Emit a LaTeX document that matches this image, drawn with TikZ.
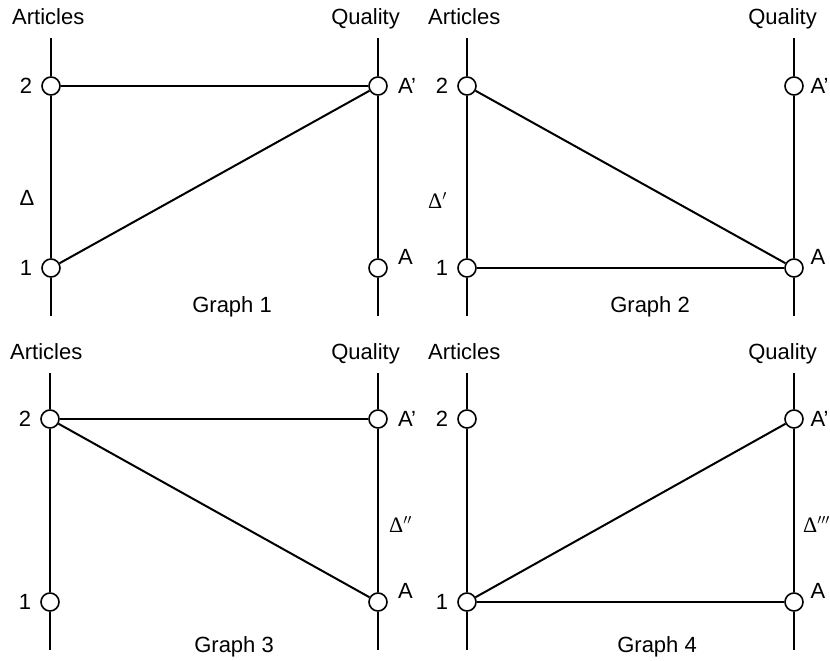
\documentclass[tikz,border=0pt]{standalone}
\usepackage{fontspec}
\setmainfont{Liberation Sans}
\newfontfamily\deltafont{Liberation Serif}
\begin{document}
\begin{tikzpicture}[x=1pt,y=-1pt,
  pt/.style={circle,draw,line width=1.6pt,fill=white,minimum size=18pt,inner sep=0pt},
  ln/.style={line width=2pt},
  txt/.style={inner sep=0pt,font=\fontsize{22}{26}\selectfont},
  dtxt/.style={inner sep=0pt,font=\fontsize{22}{26}\deltafont}]
\useasboundingbox[fill=white] (0,0) rectangle (830,661);

% ---------- Panel 1 ----------
\coordinate (p1lt) at (51,38);  \coordinate (p1lb) at (51,316);
\coordinate (p1rt) at (378,38); \coordinate (p1rb) at (378,316);
\node[pt] (p1l2) at (51,86) {};
\node[pt] (p1l1) at (51,268) {};
\node[pt] (p1rAp) at (378,86) {};
\node[pt] (p1rA) at (378,268) {};
\draw[ln] (p1lt) -- (p1l2) -- (p1l1) -- (p1lb);
\draw[ln] (p1rt) -- (p1rAp) -- (p1rA) -- (p1rb);
\draw[ln] (p1l2) -- (p1rAp);
\draw[ln] (p1l1) -- (p1rAp);
\node[txt,anchor=base west] (p1art) at (12,25) {Articles};
\node[txt,anchor=base east] (p1qual) at (400,25) {Quality};
\node[txt,anchor=east] (p1n2) at ([xshift=-9pt]p1l2.west) {2};
\node[txt,anchor=east] (p1n1) at ([xshift=-9pt]p1l1.west) {1};
\node[txt,anchor=west] (p1nAp) at ([xshift=10pt]p1rAp.east) {A’};
\node[txt,anchor=west] (p1nA) at ([xshift=10pt,yshift=11pt]p1rA.east) {A};
\node[txt] (p1d) at (27,198) {Δ};
\node[txt,anchor=base east] (p1g) at (272,312) {Graph 1};

% ---------- Panel 2 ----------
\coordinate (p2lt) at (467,38);  \coordinate (p2lb) at (467,316);
\coordinate (p2rt) at (794,38); \coordinate (p2rb) at (794,316);
\node[pt] (p2l2) at (467,86) {};
\node[pt] (p2l1) at (467,268) {};
\node[pt] (p2rAp) at (794,86) {};
\node[pt] (p2rA) at (794,268) {};
\draw[ln] (p2lt) -- (p2l2) -- (p2l1) -- (p2lb);
\draw[ln] (p2rt) -- (p2rAp) -- (p2rA) -- (p2rb);
\draw[ln] (p2l2) -- (p2rA);
\draw[ln] (p2l1) -- (p2rA);
\node[txt,anchor=base west] (p2art) at (428,25) {Articles};
\node[txt,anchor=base east] (p2qual) at (817,25) {Quality};
\node[txt,anchor=east] (p2n2) at ([xshift=-9pt]p2l2.west) {2};
\node[txt,anchor=east] (p2n1) at ([xshift=-9pt]p2l1.west) {1};
\node[txt,anchor=west] (p2nAp) at ([xshift=6.5pt]p2rAp.east) {A’};
\node[txt,anchor=west] (p2nA) at ([xshift=6.5pt,yshift=11pt]p2rA.east) {A};
\node[dtxt,anchor=base west] (p2d) at (428,208) {Δ$^{\prime}$};
\node[txt,anchor=base east] (p2g) at (690,312) {Graph 2};

% ---------- Panel 3 ----------
\coordinate (p3lt) at (50,373);  \coordinate (p3lb) at (50,650);
\coordinate (p3rt) at (378,373); \coordinate (p3rb) at (378,650);
\node[pt] (p3l2) at (50,419) {};
\node[pt] (p3l1) at (50,602) {};
\node[pt] (p3rAp) at (378,419) {};
\node[pt] (p3rA) at (378,602) {};
\draw[ln] (p3lt) -- (p3l2) -- (p3l1) -- (p3lb);
\draw[ln] (p3rt) -- (p3rAp) -- (p3rA) -- (p3rb);
\draw[ln] (p3l2) -- (p3rAp);
\draw[ln] (p3l2) -- (p3rA);
\node[txt,anchor=base west] (p3art) at (10,359) {Articles};
\node[txt,anchor=base east] (p3qual) at (400,359) {Quality};
\node[txt,anchor=east] (p3n2) at ([xshift=-9pt]p3l2.west) {2};
\node[txt,anchor=east] (p3n1) at ([xshift=-9pt]p3l1.west) {1};
\node[txt,anchor=west] (p3nAp) at ([xshift=10pt]p3rAp.east) {A’};
\node[txt,anchor=west] (p3nA) at ([xshift=10pt,yshift=11pt]p3rA.east) {A};
\node[dtxt,anchor=base west] (p3d) at (389,532) {Δ$^{\prime\prime}$};
\node[txt,anchor=base east] (p3g) at (274,652) {Graph 3};

% ---------- Panel 4 ----------
\coordinate (p4lt) at (467,373);  \coordinate (p4lb) at (467,650);
\coordinate (p4rt) at (794,373); \coordinate (p4rb) at (794,650);
\node[pt] (p4l2) at (467,419) {};
\node[pt] (p4l1) at (467,602) {};
\node[pt] (p4rAp) at (794,419) {};
\node[pt] (p4rA) at (794,602) {};
\draw[ln] (p4lt) -- (p4l2) -- (p4l1) -- (p4lb);
\draw[ln] (p4rt) -- (p4rAp) -- (p4rA) -- (p4rb);
\draw[ln] (p4l1) -- (p4rAp);
\draw[ln] (p4l1) -- (p4rA);
\node[txt,anchor=base west] (p4art) at (428,359) {Articles};
\node[txt,anchor=base east] (p4qual) at (817,359) {Quality};
\node[txt,anchor=east] (p4n2) at ([xshift=-9pt]p4l2.west) {2};
\node[txt,anchor=east] (p4n1) at ([xshift=-9pt]p4l1.west) {1};
\node[txt,anchor=west] (p4nAp) at ([xshift=6.5pt]p4rAp.east) {A’};
\node[txt,anchor=west] (p4nA) at ([xshift=6.5pt,yshift=11pt]p4rA.east) {A};
\node[dtxt,anchor=base west] (p4d) at (803,532) {Δ$^{\prime\prime\prime}$};
\node[txt,anchor=base east] (p4g) at (697,652) {Graph 4};
\end{tikzpicture}
\end{document}
